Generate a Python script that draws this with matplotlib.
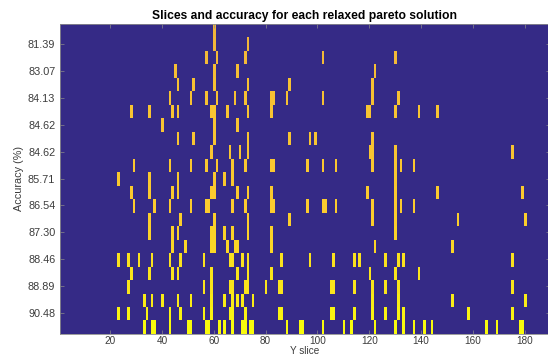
import numpy as np
import matplotlib
matplotlib.use('Agg')
import matplotlib.pyplot as plt
from matplotlib.colors import LinearSegmentedColormap

plt.rcParams['font.family'] = ['Liberation Sans', 'DejaVu Sans']

# data: one row per relaxed pareto solution
n_slices = 189
accuracy = [80.62, 81.39, 82.31, 83.07, 83.85, 84.13, 84.62, 84.62, 84.62, 84.62,
            85.38, 85.71, 86.15, 86.54, 86.92, 87.30, 87.69, 88.46, 88.89, 88.89,
            89.68, 90.48, 91.27]
slices = [
    [60],
    [60, 73],
    [57, 61, 72, 102, 130],
    [45, 60, 69, 122],
    [46, 52, 60, 73, 89, 121],
    [43, 51, 57, 61, 68, 72, 82, 83, 88, 102, 121, 131],
    [28, 35, 44, 46, 59, 60, 65, 73, 82, 119, 120, 130, 139, 146],
    [40, 60, 69],
    [46, 52, 60, 73, 89, 97, 99, 121],
    [59, 66, 70, 73, 120, 121, 130, 175],
    [29, 43, 51, 57, 61, 67, 72, 82, 83, 96, 102, 107, 121, 130, 132, 137],
    [23, 35, 46, 60, 64, 67, 130],
    [28, 35, 44, 46, 59, 60, 69, 73, 82, 119, 130, 146, 179],
    [29, 37, 43, 51, 57, 58, 67, 72, 82, 83, 96, 102, 103, 107, 121, 130, 132, 137],
    [35, 47, 60, 73, 89, 121, 130, 154, 180],
    [35, 44, 46, 59, 60, 64, 67, 73, 82, 130],
    [44, 49, 59, 60, 65, 68, 69, 82, 122, 152],
    [23, 27, 31, 36, 43, 47, 56, 66, 67, 71, 73, 86, 97, 106, 114, 116, 126, 131, 133, 175],
    [28, 35, 44, 46, 59, 69, 73, 82, 120, 130, 139],
    [27, 56, 59, 66, 67, 72, 73, 80, 85, 86, 105, 106, 114, 121, 126, 131, 175],
    [33, 36, 40, 46, 51, 59, 64, 67, 69, 71, 75, 121, 131, 152, 180],
    [23, 27, 34, 43, 47, 56, 59, 66, 67, 72, 85, 86, 105, 106, 114, 121, 126, 131, 133, 158, 175],
    [33, 36, 37, 43, 50, 51, 57, 58, 62, 64, 67, 71, 72, 74, 75, 88, 93, 94, 102, 110,
     113, 122, 130, 133, 137, 141, 144, 165, 169, 178, 179],
]
tick_rows = list(range(2, 23, 2))
tick_labels = ['81.39', '83.07', '84.13', '84.62', '84.62', '85.71',
               '86.54', '87.30', '88.46', '88.89', '90.48']

grid = np.zeros((len(slices), n_slices))
for i, cols in enumerate(slices):
    grid[i, np.array(cols) - 1] = accuracy[i]

# rough parula
parula = LinearSegmentedColormap.from_list('parula', [
    (0.00, (0.2081, 0.1663, 0.5292)),
    (0.15, (0.0500, 0.3900, 0.8800)),
    (0.30, (0.0240, 0.5800, 0.8300)),
    (0.45, (0.0500, 0.7100, 0.7000)),
    (0.60, (0.3500, 0.7900, 0.4600)),
    (0.75, (0.7300, 0.7500, 0.2800)),
    (0.89, (0.9500, 0.7100, 0.2300)),
    (0.95, (0.9900, 0.8000, 0.1800)),
    (1.00, (0.9763, 0.9831, 0.0538)),
])

W, H = 548, 356
fig = plt.figure(figsize=(W / 100, H / 100), dpi=100)
left, right, top, bottom = 59.5, 549.5, 23.5, 333.5
ax = fig.add_axes([left / W, 1 - bottom / H, (right - left) / W, (bottom - top) / H])

ax.imshow(grid, cmap=parula, vmin=0, vmax=max(accuracy), aspect='auto',
          interpolation='nearest',
          extent=(0.5, n_slices + 0.5, len(slices) + 0.5, 0.5))

ax.set_xticks(range(20, 181, 20))
ax.set_yticks(tick_rows)
ax.set_yticklabels(tick_labels)
ax.tick_params(direction='in', length=3, width=0.5, top=True, right=True,
               color='#8a8a8a', labelsize=7.8, labelcolor='#3c3c3c', pad=3)
ax.tick_params(axis='x', pad=1.5, labelsize=7.2)
for s in ax.spines.values():
    s.set_color('#8c8c8c')
    s.set_linewidth(0.6)

ax.set_xlabel('Y slice', fontsize=7.2, color='#3c3c3c', labelpad=0)
ax.set_ylabel('Accuracy (%)', fontsize=7.8, color='#3c3c3c', labelpad=3)
ax.set_title('Slices and accuracy for each relaxed pareto solution',
             fontsize=8.7, fontweight='bold', pad=3)

fig.savefig('out.png', dpi=100)
